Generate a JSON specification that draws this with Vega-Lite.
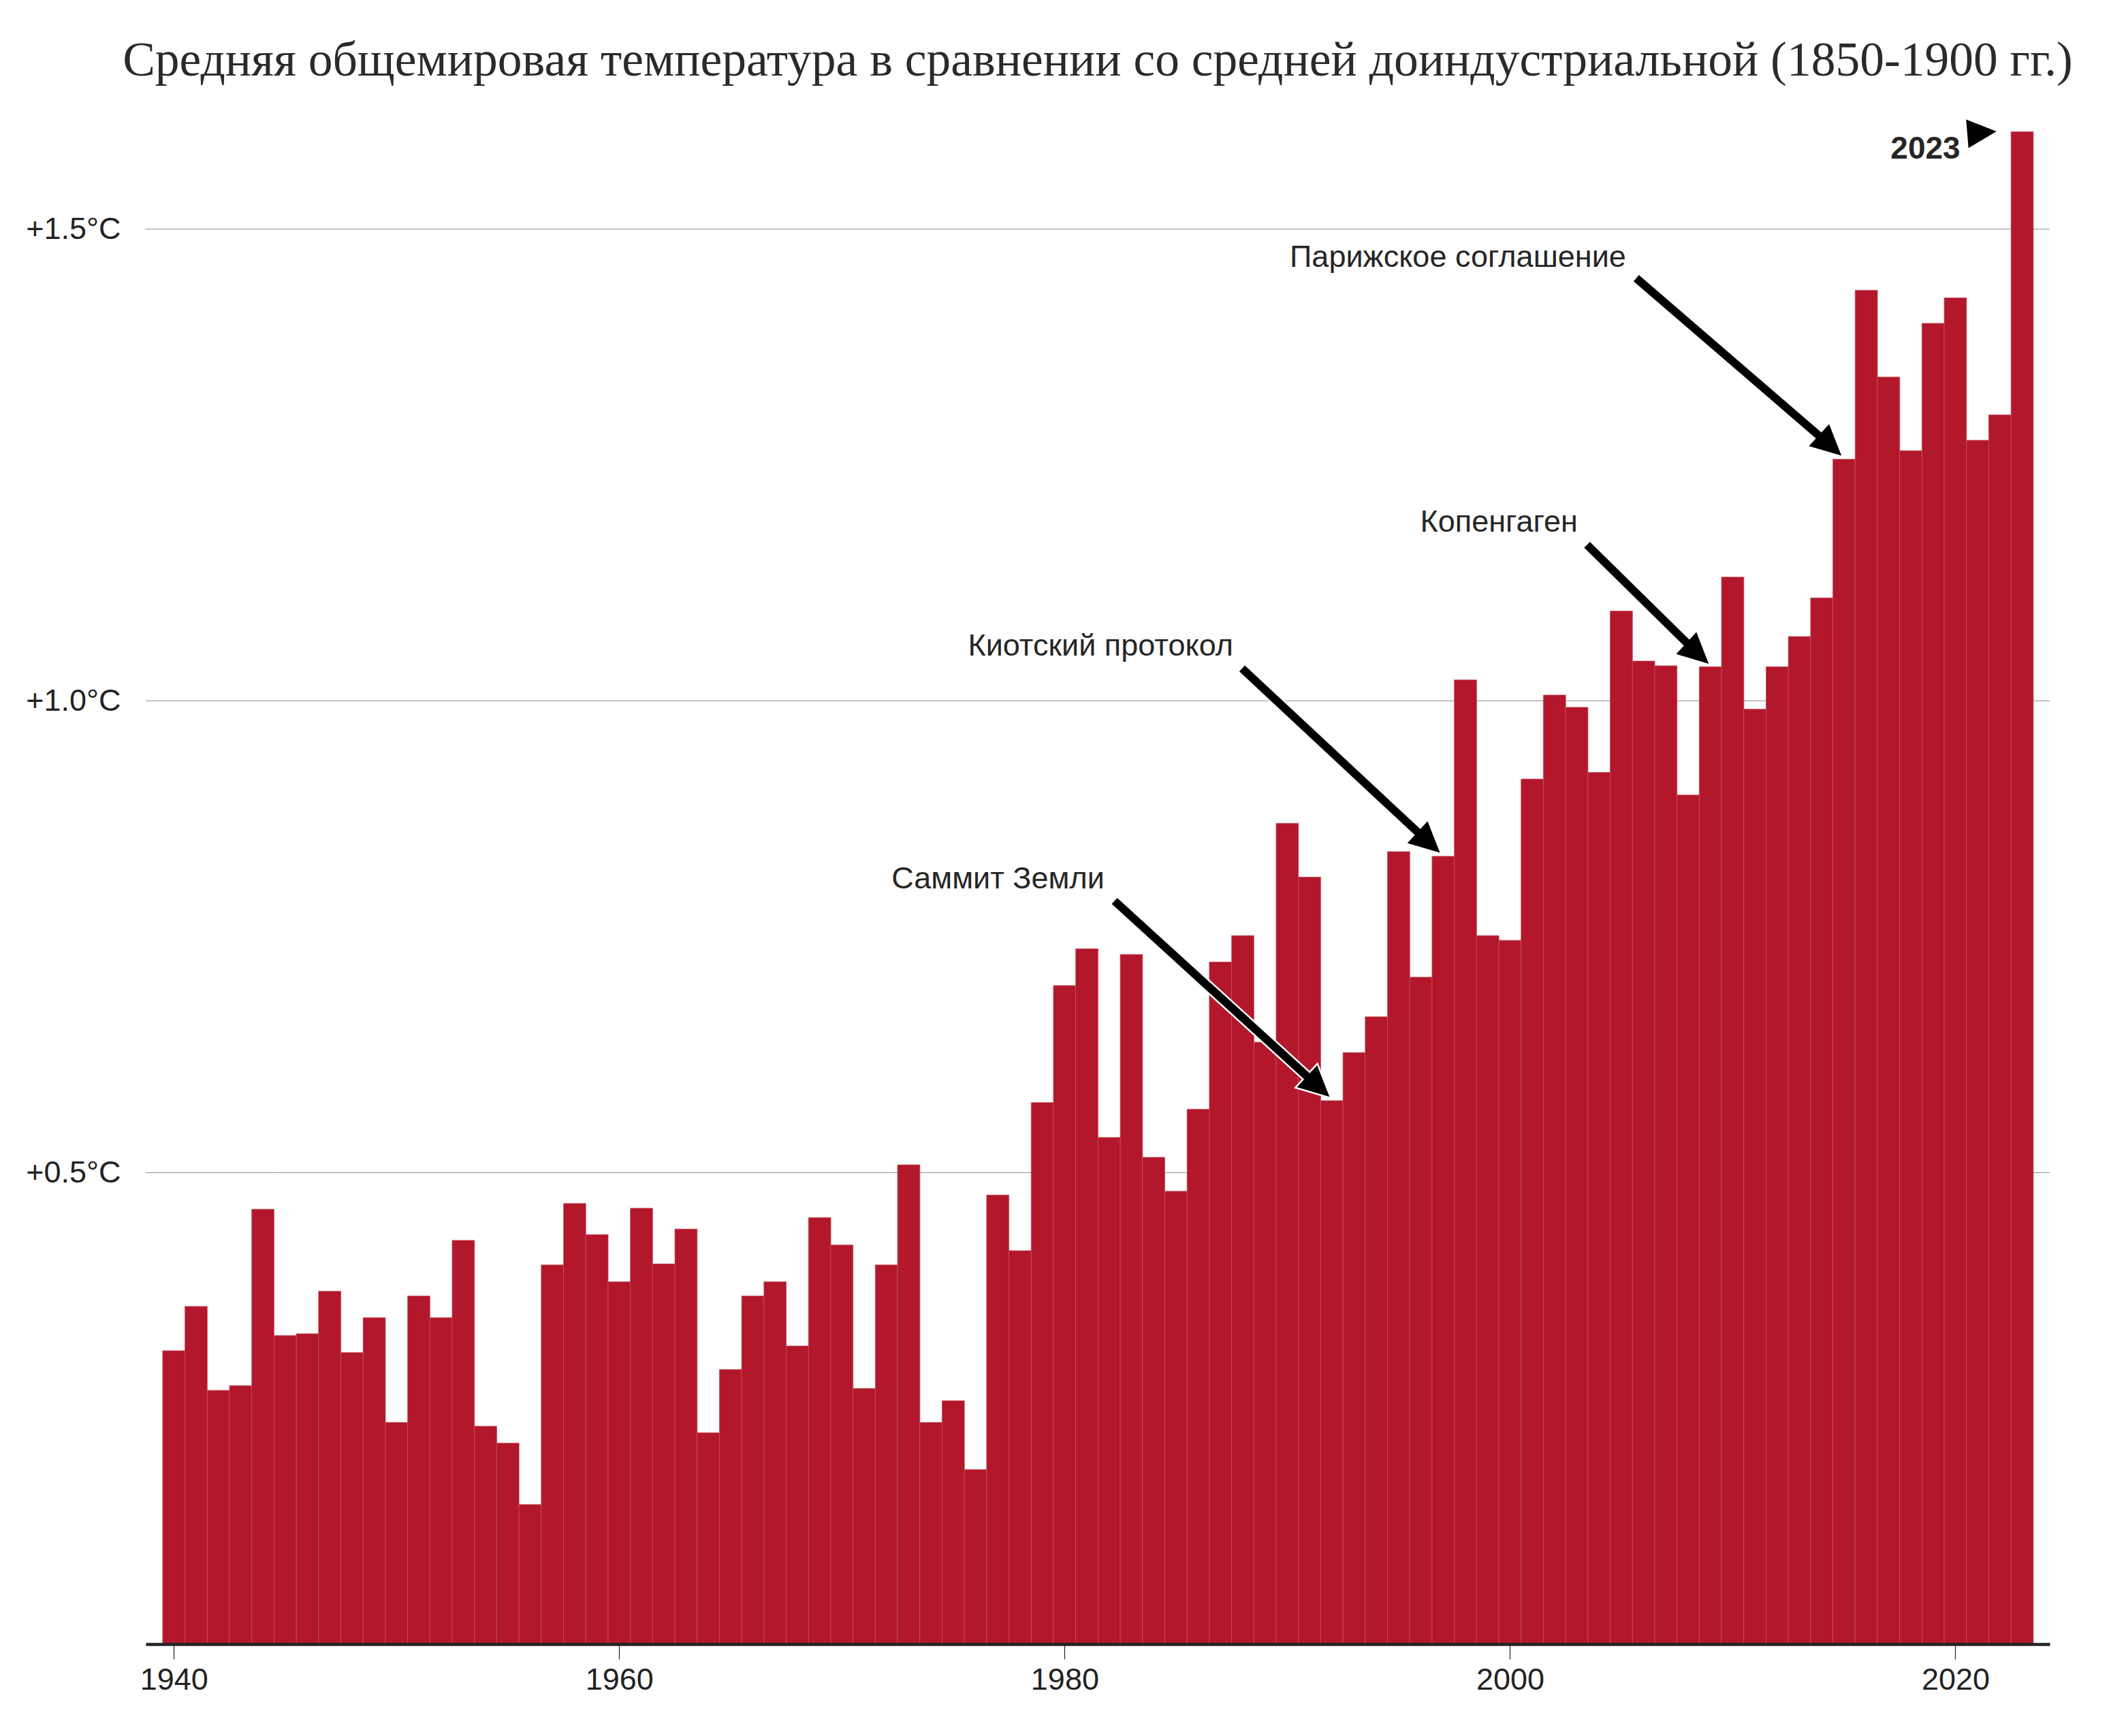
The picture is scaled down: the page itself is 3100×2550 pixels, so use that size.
{
  "$schema": "https://vega.github.io/schema/vega-lite/v6.json",
  "width": 2796,
  "height": 2245,
  "autosize": {"type": "none"},
  "padding": {"left": 214, "top": 170, "right": 90, "bottom": 135},
  "background": "white",
  "title": {
    "text": "Средняя общемировая температура в сравнении со средней доиндустриальной (1850-1900 гг.)",
    "font": "Liberation Serif",
    "fontSize": 71.5,
    "fontWeight": "normal",
    "color": "#2a2a2a",
    "anchor": "middle",
    "baseline": "alphabetic",
    "offset": -12
  },
  "config": {"view": {"stroke": null}},
  "datasets": {
    "temps": [
      {"year": 1940, "anomaly": 0.311}, {"year": 1941, "anomaly": 0.358}, {"year": 1942, "anomaly": 0.269},
      {"year": 1943, "anomaly": 0.274}, {"year": 1944, "anomaly": 0.461}, {"year": 1945, "anomaly": 0.327},
      {"year": 1946, "anomaly": 0.329}, {"year": 1947, "anomaly": 0.374}, {"year": 1948, "anomaly": 0.309},
      {"year": 1949, "anomaly": 0.346}, {"year": 1950, "anomaly": 0.235}, {"year": 1951, "anomaly": 0.369},
      {"year": 1952, "anomaly": 0.346}, {"year": 1953, "anomaly": 0.428}, {"year": 1954, "anomaly": 0.231},
      {"year": 1955, "anomaly": 0.213}, {"year": 1956, "anomaly": 0.148}, {"year": 1957, "anomaly": 0.402},
      {"year": 1958, "anomaly": 0.467}, {"year": 1959, "anomaly": 0.434}, {"year": 1960, "anomaly": 0.384},
      {"year": 1961, "anomaly": 0.462}, {"year": 1962, "anomaly": 0.403}, {"year": 1963, "anomaly": 0.440},
      {"year": 1964, "anomaly": 0.224}, {"year": 1965, "anomaly": 0.291}, {"year": 1966, "anomaly": 0.369},
      {"year": 1967, "anomaly": 0.384}, {"year": 1968, "anomaly": 0.316}, {"year": 1969, "anomaly": 0.452},
      {"year": 1970, "anomaly": 0.423}, {"year": 1971, "anomaly": 0.271}, {"year": 1972, "anomaly": 0.402},
      {"year": 1973, "anomaly": 0.508}, {"year": 1974, "anomaly": 0.235}, {"year": 1975, "anomaly": 0.258},
      {"year": 1976, "anomaly": 0.185}, {"year": 1977, "anomaly": 0.476}, {"year": 1978, "anomaly": 0.417},
      {"year": 1979, "anomaly": 0.574}, {"year": 1980, "anomaly": 0.698}, {"year": 1981, "anomaly": 0.737},
      {"year": 1982, "anomaly": 0.537}, {"year": 1983, "anomaly": 0.731}, {"year": 1984, "anomaly": 0.516},
      {"year": 1985, "anomaly": 0.480}, {"year": 1986, "anomaly": 0.567}, {"year": 1987, "anomaly": 0.723},
      {"year": 1988, "anomaly": 0.751}, {"year": 1989, "anomaly": 0.638}, {"year": 1990, "anomaly": 0.870},
      {"year": 1991, "anomaly": 0.813}, {"year": 1992, "anomaly": 0.576}, {"year": 1993, "anomaly": 0.627},
      {"year": 1994, "anomaly": 0.665}, {"year": 1995, "anomaly": 0.840}, {"year": 1996, "anomaly": 0.707},
      {"year": 1997, "anomaly": 0.835}, {"year": 1998, "anomaly": 1.022}, {"year": 1999, "anomaly": 0.751},
      {"year": 2000, "anomaly": 0.746}, {"year": 2001, "anomaly": 0.917}, {"year": 2002, "anomaly": 1.006},
      {"year": 2003, "anomaly": 0.993}, {"year": 2004, "anomaly": 0.924}, {"year": 2005, "anomaly": 1.095},
      {"year": 2006, "anomaly": 1.042}, {"year": 2007, "anomaly": 1.037}, {"year": 2008, "anomaly": 0.900},
      {"year": 2009, "anomaly": 1.036}, {"year": 2010, "anomaly": 1.131}, {"year": 2011, "anomaly": 0.991},
      {"year": 2012, "anomaly": 1.036}, {"year": 2013, "anomaly": 1.068}, {"year": 2014, "anomaly": 1.109},
      {"year": 2015, "anomaly": 1.256}, {"year": 2016, "anomaly": 1.435}, {"year": 2017, "anomaly": 1.343},
      {"year": 2018, "anomaly": 1.265}, {"year": 2019, "anomaly": 1.400}, {"year": 2020, "anomaly": 1.427},
      {"year": 2021, "anomaly": 1.276}, {"year": 2022, "anomaly": 1.303}, {"year": 2023, "anomaly": 1.603}
    ],
    "notes": [
      {"label": "Саммит Земли", "tx": 1981.79, "ty": 0.8009, "x0": 1982.24, "y0": 0.7877, "x1": 1991.39, "y1": 0.5910},
      {"label": "Киотский протокол", "tx": 1987.57, "ty": 1.0478, "x0": 1987.97, "y0": 1.0341, "x1": 1996.35, "y1": 0.8497},
      {"label": "Копенгаген", "tx": 2003.04, "ty": 1.1792, "x0": 2003.46, "y0": 1.1652, "x1": 2008.42, "y1": 1.0501},
      {"label": "Парижское соглашение", "tx": 2005.21, "ty": 1.4598, "x0": 2005.67, "y0": 1.4478, "x1": 2014.38, "y1": 1.2706}
    ],
    "last": [
      {"label": "2023", "tx": 2020.22, "ty": 1.5748, "hx": 2021.19, "hy": 1.6022}
    ]
  },
  "layer": [
    {
      "data": {"name": "temps"},
      "mark": {"type": "bar", "width": 32.82, "fill": "#b2172b", "stroke": "#c95360", "strokeWidth": 0.8},
      "encoding": {
        "x": {
          "field": "year", "type": "quantitative",
          "scale": {"domain": [1938.891, 2024.083], "nice": false, "zero": false},
          "axis": {
            "title": null, "values": [1940, 1960, 1980, 2000, 2020], "format": "d",
            "grid": false, "zindex": 1,
            "domainColor": "#222222", "domainWidth": 4.5,
            "tickColor": "#222222", "tickWidth": 1.2, "tickSize": 22,
            "labelFont": "Liberation Sans", "labelFontSize": 45, "labelColor": "#222222", "labelPadding": 8
          }
        },
        "y": {
          "field": "anomaly", "type": "quantitative",
          "scale": {"domain": [0, 1.62], "nice": false},
          "axis": {
            "title": null, "values": [0.5, 1.0, 1.5],
            "labelExpr": "'+' + format(datum.value, '.1f') + '°C'",
            "domain": false, "ticks": false,
            "grid": true, "gridColor": "#222222", "gridDash": [1, 1], "gridWidth": 1,
            "labelFont": "Liberation Sans", "labelFontSize": 45, "labelColor": "#222222", "labelPadding": 37
          }
        }
      }
    },
    {
      "data": {"name": "notes"},
      "mark": {"type": "rule", "stroke": "white", "strokeWidth": 17, "strokeCap": "butt"},
      "encoding": {
        "x": {"field": "x0", "type": "quantitative"},
        "y": {"field": "y0", "type": "quantitative"},
        "x2": {"field": "x1"},
        "y2": {"field": "y1"}
      }
    },
    {
      "data": {"name": "notes"},
      "mark": {"type": "point", "shape": "M1,0L-1,-0.98L-1,0.98Z", "size": 2000, "angle": 42.5, "filled": true, "fill": "black", "stroke": "white", "strokeWidth": 5, "opacity": 1},
      "encoding": {
        "x": {"field": "x1", "type": "quantitative"},
        "y": {"field": "y1", "type": "quantitative"}
      }
    },
    {
      "data": {"name": "notes"},
      "mark": {"type": "rule", "stroke": "black", "strokeWidth": 12, "strokeCap": "butt"},
      "encoding": {
        "x": {"field": "x0", "type": "quantitative"},
        "y": {"field": "y0", "type": "quantitative"},
        "x2": {"field": "x1"},
        "y2": {"field": "y1"}
      }
    },
    {
      "data": {"name": "notes"},
      "mark": {"type": "point", "shape": "M1,0L-1,-0.98L-1,0.98Z", "size": 2000, "angle": 42.5, "filled": true, "fill": "black", "strokeWidth": 0, "opacity": 1},
      "encoding": {
        "x": {"field": "x1", "type": "quantitative"},
        "y": {"field": "y1", "type": "quantitative"}
      }
    },
    {
      "data": {"name": "notes"},
      "mark": {"type": "text", "align": "right", "baseline": "alphabetic", "font": "Liberation Sans", "fontSize": 45, "color": "#262626"},
      "encoding": {
        "x": {"field": "tx", "type": "quantitative"},
        "y": {"field": "ty", "type": "quantitative"},
        "text": {"field": "label"}
      }
    },
    {
      "data": {"name": "last"},
      "mark": {"type": "text", "align": "right", "baseline": "alphabetic", "font": "Liberation Sans", "fontSize": 46, "fontWeight": "bold", "color": "#262626"},
      "encoding": {
        "x": {"field": "tx", "type": "quantitative"},
        "y": {"field": "ty", "type": "quantitative"},
        "text": {"field": "label"}
      }
    },
    {
      "data": {"name": "last"},
      "mark": {"type": "point", "shape": "M1,0L-1,-0.98L-1,0.98Z", "size": 1849, "angle": -4.7, "filled": true, "fill": "black", "strokeWidth": 0, "opacity": 1},
      "encoding": {
        "x": {"field": "hx", "type": "quantitative"},
        "y": {"field": "hy", "type": "quantitative"}
      }
    }
  ]
}
